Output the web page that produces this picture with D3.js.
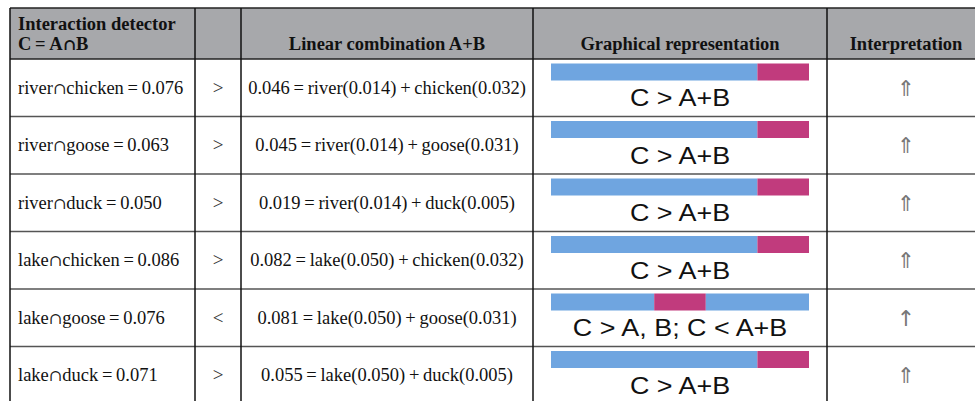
<!DOCTYPE html>
<html>
<head>
<meta charset="utf-8">
<script src="https://cdn.jsdelivr.net/npm/d3@7"></script>
<style>
  html, body { margin: 0; padding: 0; background: #fff; }
  svg { display: block; }
</style>
</head>
<body>
<div id="chart"></div>
<script>
// ---- data ----
const detectorA = ["river", "river", "river", "lake", "lake", "lake"];
const detectorB = ["chicken", "goose", "duck", "chicken", "goose", "duck"];
const interactionValues = [0.076, 0.063, 0.050, 0.086, 0.076, 0.071];
const comparisons = [">", ">", ">", ">", "<", ">"];
const sumValues = [0.046, 0.045, 0.019, 0.082, 0.081, 0.055];
const aValues = [0.014, 0.014, 0.014, 0.050, 0.050, 0.050];
const bValues = [0.032, 0.031, 0.005, 0.032, 0.031, 0.005];
const graphLabels = ["C > A+B", "C > A+B", "C > A+B", "C > A+B", "C > A, B; C < A+B", "C > A+B"];
const interpretations = ["⇑", "⇑", "⇑", "⇑", "↑", "⇑"];
// schematic bar segments (fractions of the bar): [start, end, kind]
const barSegments = [
  [[0, 0.8, "AB"], [0.8, 1, "C"]],
  [[0, 0.8, "AB"], [0.8, 1, "C"]],
  [[0, 0.8, "AB"], [0.8, 1, "C"]],
  [[0, 0.8, "AB"], [0.8, 1, "C"]],
  [[0, 0.4, "AB"], [0.4, 0.6, "C"], [0.6, 1, "AB"]],
  [[0, 0.8, "AB"], [0.8, 1, "C"]]
];
const headerLine1 = ["Interaction detector", "", "", "", ""];
const headerLine2 = ["C = A∩B", "", "Linear combination A+B", "Graphical representation", "Interpretation"];

// ---- layout ----
const W = 975, H = 401;
const svg = d3.select("#chart").append("svg").attr("width", W).attr("height", H);

const colEdges = [10, 195, 241, 533, 827, 985];
const tableTop = 8, headerBottom = 59, rowH = 57.5;
const rows = d3.range(interactionValues.length);
const y = d3.scaleBand().domain(rows).range([headerBottom, headerBottom + rowH * rows.length]).padding(0);
const barX = d3.scaleLinear().domain([0, 1]).range([551, 809]);
const color = d3.scaleOrdinal().domain(["AB", "C"]).range(["#6fa5e0", "#c13b7d"]);
const fmt = d3.format(".3f");
const sp = "\u2009";
const serif = "'Liberation Serif', 'Times New Roman', serif";
const mathSerif = "'DejaVu Serif', serif";
const sans = "'Liberation Sans', Arial, sans-serif";
const headSize = 18.5;

// header background
svg.append("rect").attr("x", colEdges[0]).attr("y", tableTop)
  .attr("width", colEdges[5] - colEdges[0]).attr("height", headerBottom - tableTop)
  .attr("fill", "#a7a8ab");

// header text
const colCenter = i => (colEdges[i] + colEdges[i + 1]) / 2;
svg.append("text").attr("x", 18).attr("y", 29.5)
  .attr("font-family", serif).attr("font-weight", "bold").attr("font-size", headSize).attr("fill", "#111")
  .text(headerLine1[0]);
const h2 = svg.append("text").attr("x", 18).attr("y", 50)
  .attr("font-family", serif).attr("font-weight", "bold").attr("font-size", headSize).attr("fill", "#111");
h2.append("tspan").text("C" + sp + "=" + sp + "A");
h2.append("tspan").attr("font-family", mathSerif).attr("font-size", 16).text("∩");
h2.append("tspan").text("B");
[2, 3, 4].forEach(i => {
  svg.append("text").attr("x", colCenter(i)).attr("y", 50).attr("text-anchor", "middle")
    .attr("font-family", serif).attr("font-weight", "bold").attr("font-size", headSize).attr("fill", "#111")
    .text(headerLine2[i]);
});

// rows
const g = svg.selectAll("g.row").data(rows).join("g").attr("class", "row")
  .attr("transform", d => `translate(0,${y(d)})`);

const t1 = g.append("text").attr("x", 18).attr("y", rowH / 2 + 6)
  .attr("font-family", serif).attr("font-size", 18.5).attr("fill", "#111");
t1.append("tspan").text(d => detectorA[d]);
t1.append("tspan").attr("font-family", mathSerif).attr("font-size", 16).attr("fill", "#222").text("∩");
t1.append("tspan").text(d => detectorB[d] + sp + "=" + sp + fmt(interactionValues[d]));

g.append("text").attr("x", colCenter(1)).attr("y", rowH / 2 + 6).attr("text-anchor", "middle")
  .attr("font-family", serif).attr("font-size", 19).attr("fill", "#333")
  .text(d => comparisons[d]);

g.append("text").attr("x", colCenter(2)).attr("y", rowH / 2 + 6).attr("text-anchor", "middle")
  .attr("font-family", serif).attr("font-size", 18.5).attr("fill", "#111")
  .text(d => fmt(sumValues[d]) + sp + "=" + sp + detectorA[d] + "(" + fmt(aValues[d]) + ")" + sp + "+" + sp +
    detectorB[d] + "(" + fmt(bValues[d]) + ")");

g.selectAll("rect.seg").data(d => barSegments[d]).join("rect").attr("class", "seg")
  .attr("x", s => barX(s[0])).attr("width", s => barX(s[1]) - barX(s[0]))
  .attr("y", 4.5).attr("height", 17)
  .attr("fill", s => color(s[2]));

g.append("text")
  .attr("transform", `translate(${colCenter(3)},${47}) scale(1.17,1)`)
  .attr("text-anchor", "middle")
  .attr("font-family", sans).attr("font-size", 23).attr("fill", "#111")
  .text(d => graphLabels[d]);

g.append("text").attr("x", colCenter(4)).attr("y", rowH / 2 + 8)
  .attr("text-anchor", "middle")
  .attr("font-family", "'DejaVu Sans', sans-serif").attr("font-size", 22).attr("fill", "#777")
  .text(d => interpretations[d]);

// grid lines
const hLines = [tableTop, headerBottom].concat(rows.slice(1).map(r => y(r)));
svg.selectAll("line.h").data(hLines).join("line").attr("class", "h")
  .attr("x1", colEdges[0]).attr("x2", colEdges[5])
  .attr("y1", d => d).attr("y2", d => d)
  .attr("stroke", (d, i) => i < 2 ? "#222" : "#555").attr("stroke-width", 1.5);
svg.selectAll("line.v").data(colEdges).join("line").attr("class", "v")
  .attr("x1", d => d).attr("x2", d => d)
  .attr("y1", tableTop).attr("y2", H + 5)
  .attr("stroke", "#111").attr("stroke-width", 1.5);
</script>
</body>
</html>
